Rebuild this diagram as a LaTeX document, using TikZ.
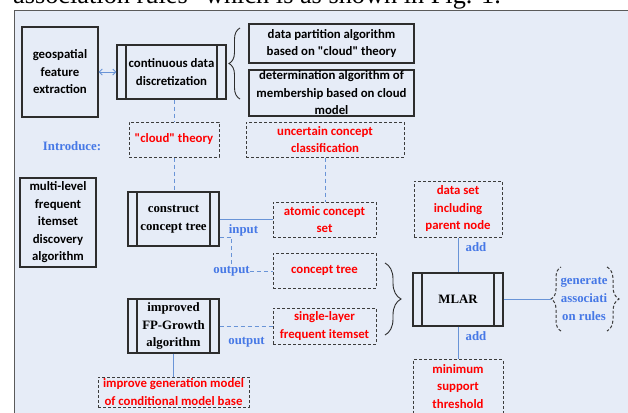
\documentclass[tikz,border=0pt]{standalone}
\usepackage{fontspec}
\setmainfont{Liberation Serif}
\newfontfamily\calfont{Carlito}
\newfontfamily\tmsfont{Liberation Serif}
\usetikzlibrary{decorations.pathreplacing,arrows.meta}
\definecolor{bgc}{RGB}{230,236,247}
\definecolor{lnc}{RGB}{105,148,215}
\definecolor{lblue}{RGB}{70,120,230}
\definecolor{bord}{RGB}{45,45,45}
\definecolor{dbord}{RGB}{60,60,60}
\definecolor{frame}{RGB}{90,90,90}
\begin{document}
\begin{tikzpicture}[x=1bp,y=-1bp,
  txt/.style={font=\calfont\bfseries\fontsize{12.8bp}{17.5bp}\selectfont, align=center, inner sep=0pt},
  ser/.style={font=\tmsfont\bfseries\fontsize{12.8bp}{17.8bp}\selectfont, align=center, inner sep=0pt},
  box/.style={draw=bord, line width=1.1bp},
  pbars/.style={path picture={\draw[draw=bord, line width=1.1bp]
      ([xshift=9bp]path picture bounding box.north west) -- ([xshift=9bp]path picture bounding box.south west)
      ([xshift=-9bp]path picture bounding box.north east) -- ([xshift=-9bp]path picture bounding box.south east);}},
  dbox/.style={txt, draw=dbord, dash pattern=on 3bp off 2bp, line width=1bp, text=red},
  conn/.style={draw=lnc, line width=1bp},
  dconn/.style={conn, dash pattern=on 4bp off 3bp},
  lbl/.style={ser, text=lblue},
  brc/.style={draw=bord, line width=0.9bp, decorate, decoration={brace, amplitude=#1}},
  dbrc/.style={draw=dbord, line width=1bp, dash pattern=on 3bp off 2bp, decorate, decoration={brace, amplitude=#1}},
]
\useasboundingbox (0,0) rectangle (628,412);
\fill[bgc] (14,10) rectangle (650,430);
\draw[draw=frame, line width=1bp] (14,430) -- (14,10) -- (650,10);
\node[anchor=base west, inner sep=0pt, font=\tmsfont\fontsize{26.3bp}{30bp}\selectfont] (cap) at (13,3) {association rules" which is as shown in Fig. 1.};

% top row
\node[box, txt, minimum width=76bp, minimum height=90bp] (geo) at (60,72) {geospatial\\feature\\extraction};
\node[box, pbars, txt, minimum width=109bp, minimum height=54bp] (cdd) at (171.5,72) {continuous data\\discretization};
\node[box, txt, minimum width=165bp, minimum height=39bp] (dp) at (331.5,43.5) {data partition algorithm\\based on "cloud" theory};
\node[box, txt, minimum width=165bp, minimum height=46bp] (det) at (331.5,93) {determination algorithm of\\membership based on cloud\\model};
\draw[brc=11bp] (240,99) -- (240,28);

% introduce row
\node[lbl] (intro) at (72,146) {Introduce:};
\node[dbox, minimum width=90bp, minimum height=35bp] (cloud) at (174,139.5) {"cloud" theory};
\node[dbox, minimum width=158bp, minimum height=35bp] (unc) at (325,139.5) {uncertain concept\\classification};

% left box
\node[box, txt, minimum width=76bp, minimum height=89bp] (mlf) at (58,222.5) {multi-level\\frequent\\itemset\\discovery\\algorithm};

% concept tree
\node[box, pbars, ser, minimum width=91bp, minimum height=54bp] (cct) at (173.5,219) {construct\\concept tree};
\node[dbox, minimum width=103bp, minimum height=35bp] (atom) at (324.5,219.5) {atomic concept\\set};
\node[dbox, minimum width=103bp, minimum height=35bp] (ct) at (324.5,270.5) {concept tree};

% FP growth
\node[box, pbars, ser, minimum width=91bp, minimum height=54bp] (fp) at (173.5,326) {improved\\FP-Growth\\algorithm};
\node[dbox, minimum width=103bp, minimum height=36bp] (single) at (324.5,326) {single-layer\\frequent itemset};
\node[dbox, minimum width=151bp, minimum height=30bp] (imp) at (173.5,392) {improve generation model\\of conditional model base};

% MLAR
\node[box, pbars, ser, minimum width=90bp, minimum height=53bp] (mlar) at (458,299.5) {MLAR};
\node[dbox, minimum width=88bp, minimum height=56bp] (dsp) at (458,209) {data set\\including\\parent node};
\node[dbox, minimum width=90bp, minimum height=54bp] (mst) at (458,386.5) {minimum\\support\\threshold};
\draw[brc=16bp] (385,263) -- (385,335);

% generate
\node[lbl] (gen) at (584,299) {generate\\associati\\on rules};
\draw[dbrc=10bp] (561,331) -- (561,267);
\draw[dbrc=12bp] (607,267) -- (607,331);
\coordinate (gtip) at (551,299.5);

% connectors
\draw[conn, {Straight Barb[length=3bp,width=6bp]}-{Straight Barb[length=3bp,width=6bp]}] (geo.east) -- (cdd.west);
\draw[dconn] (cdd.south -| cloud.north) -- (cloud.north);
\draw[dconn] (cloud.south) -- (cloud.south |- cct.north);
\draw[dconn] (unc.south) -- (unc.south |- atom.north);
\draw[conn] (cct.east) -- (cct.east -| atom.west);
\node[lbl] (in) at (243.5,230) {input};
\node[lbl] (out1) at (231.5,271) {output};
\draw[dconn] ([yshift=-18bp]cct.east) -| (out1.north);
\draw[dconn] (out1.east) -- (out1.east -| ct.west);
\draw[dconn] (fp.east) -- (single.west);
\node[lbl] (out2) at (246.5,342) {output};
\draw[conn] (fp.south) -- (imp.north);
\draw[conn] (dsp.south) -- (mlar.north);
\node[lbl] (add1) at (476,247) {add};
\draw[conn] (mlar.south) -- (mst.north);
\node[lbl] (add2) at (476,336) {add};
\draw[conn] (mlar.east) -- (gtip);
\end{tikzpicture}
\end{document}
